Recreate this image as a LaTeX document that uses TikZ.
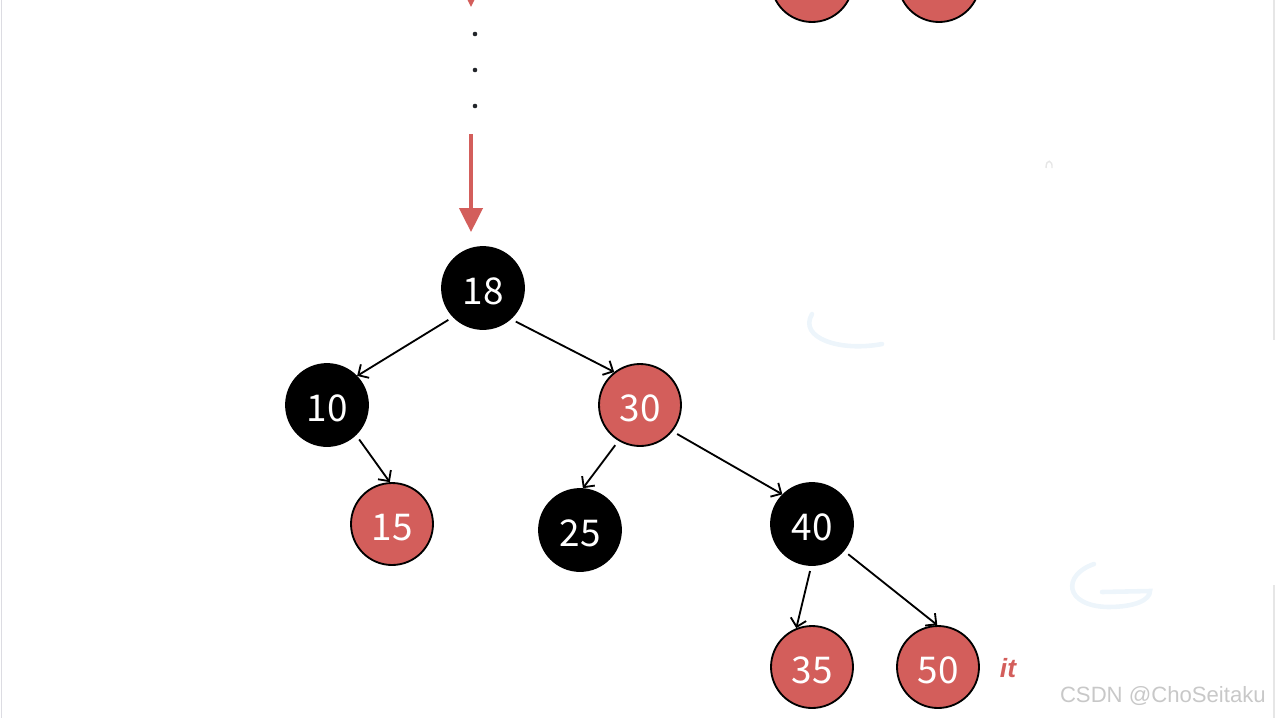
\documentclass[tikz,border=0pt]{standalone}
\usepackage{fontspec}
\setmainfont{Noto Sans CJK SC}
\newfontfamily\labelfont{Liberation Sans}
\newfontfamily\markfont{Liberation Sans}
\usetikzlibrary{arrows.meta,positioning}
\definecolor{rbred}{HTML}{D35E5B}
\definecolor{dotgray}{HTML}{22252A}
\definecolor{edgegray}{HTML}{DCDCE2}
\definecolor{marktext}{HTML}{C8C8C8}
\definecolor{faintblue}{HTML}{EDF5FB}
\definecolor{faintgray}{HTML}{E6E6E6}
\tikzset{
  every node/.style={font=\fontsize{21}{21}\selectfont, text=white},
  rbnode/.style={circle, minimum size=1.64cm, inner sep=0pt, line width=1.05pt, text height=0.64cm, text depth=0pt},
  blacknode/.style={rbnode, fill=black, draw=black},
  rednode/.style={rbnode, fill=rbred, draw=black},
  link/.style={-{Straight Barb[length=4.5pt, width=9pt, line width=1.05pt]}, draw=black, line width=1.05pt, shorten <=3pt},
  walk/.style={-{Triangle[length=0.48cm, width=0.46cm]}, draw=rbred, line width=2.3pt},
  tag/.style={font=\labelfont\fontsize{15}{15}\selectfont\bfseries\itshape, text=rbred},
  creditmark/.style={font=\markfont\fontsize{12.6}{12.6}\selectfont, text=marktext},
  smudge/.style={draw=faintblue, line width=2.6pt, line cap=round},
}

\begin{document}
\begin{tikzpicture}[x=0.02cm, y=-0.02cm]
  \useasboundingbox (0,0) rectangle (1275,718);
  \clip (0,0) rectangle (1275,718);

  % ---- page edges ----------------------------------------------------------
  \draw[edgegray, line width=1.1pt] (1.5,0) -- (1.5,718);
  \draw[faintgray, line width=0.6pt] (1274,0) -- (1274,340);
  \draw[faintgray, line width=0.6pt] (1274,585) -- (1274,718);

  % ---- what is left of the level above -------------------------------------
  \node[rednode] (up1) at (812,-19) {};
  \node[rednode] (up2) at (939,-19) {};
  \coordinate (walktop) at (471,-40);
  \coordinate (walkcut) at (471,7);
  \draw[walk] (walktop) -- (walkcut);
  \foreach \y in {34,70,106}
    \fill[dotgray] (475,\y) circle[radius=1.3pt];

  % ---- subtree ---------------------------------------------------------------
  \node[blacknode] (n18) at (483,288) {18};
  \node[blacknode] (n10) at (327,405) {10};
  \node[rednode]   (n30) at (640,405) {30};
  \node[rednode]   (n15) at (392,524) {15};
  \node[blacknode] (n25) at (580,530) {25};
  \node[blacknode] (n40) at (812,524) {40};
  \node[rednode]   (n35) at (812,667) {35};
  \node[rednode]   (n50) at (938,667) {50};

  \coordinate (walkin) at (471,134);
  \draw[walk, shorten >=0.28cm] (walkin) -- (walkin |- n18.north);

  \draw[link] (n18.224) -- (n10.44);
  \draw[link] (n18.312) -- (n30.128);
  \draw[link] (n10.314) -- (n15.93);
  \draw[link] (n30.239) -- (n25.86);
  \draw[link] (n30.321) -- (n40.135);
  \draw[link] (n40.269) -- (n35.112);
  \draw[link] (n40.320) -- (n50.91);

  \node[tag] (itlabel) at (1008,668) {it};

  % faint marks on the page
  \draw[smudge] (812,314) .. controls (798,338) and (840,352) .. (882,344);
  \draw[smudge] (1094,564) .. controls (1062,575) and (1064,606) .. (1108,607)
                .. controls (1135,607) and (1150,600) .. (1150,591) -- (1102,592);
  \draw[faintgray, line width=0.8pt] (1046,168) .. controls (1046,158) and (1053,160) .. (1052,168);

  \node[creditmark, anchor=east] (credit) at (1272,696) {CSDN @ChoSeitaku};
\end{tikzpicture}
\end{document}
